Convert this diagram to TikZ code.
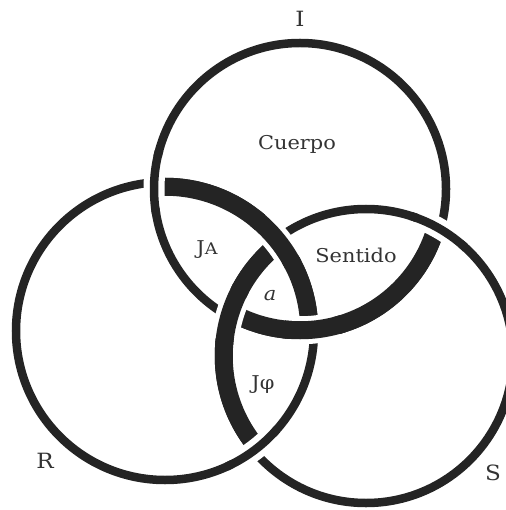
\documentclass[tikz,border=0pt]{standalone}
\usepackage{fontspec}
\setmainfont[FakeStretch=1.1]{DejaVu Serif}
\definecolor{ink}{HTML}{242424}
\definecolor{txt}{HTML}{333333}
\def\rI{146}
\def\rR{149}
\def\rS{147}
\begin{document}
\begin{tikzpicture}[x=1pt,y=-1pt,
  thinring/.style={draw=ink, line width=8.5pt},
  thickring/.style={draw=ink, line width=18pt},
  halothin/.style={draw=white, line width=21pt},
  halothick/.style={draw=white, line width=28pt},
  lbl/.style={text=txt, font=\fontsize{19}{19}\selectfont, anchor=base, inner sep=0pt},
  biglbl/.style={text=txt, font=\fontsize{21}{21}\selectfont, anchor=base, inner sep=0pt}]
\useasboundingbox (0,0) rectangle (505,510);
\coordinate (cI) at (300,189);
\coordinate (cR) at (165,331);
\coordinate (cS) at (366,356);
% thin rings
\draw[thinring] (cI) circle[radius=\rI];
\draw[thinring] (cR) circle[radius=\rR];
\draw[thinring] (cS) circle[radius=\rS];
% thick arcs: R inside I, I inside S, S inside R
\begin{scope}
  \clip (cI) circle[radius=\rI];
  \draw[thickring] (cR) circle[radius={\rR-4.75}];
\end{scope}
\begin{scope}
  \clip (cS) circle[radius=\rS];
  \draw[thickring] (cI) circle[radius={\rI-4.75}];
\end{scope}
\begin{scope}
  \clip (cR) circle[radius=\rR];
  \draw[thickring] (cS) circle[radius={\rS-4.75}];
\end{scope}
% crossings
\coordinate (xIR1) at (154,182);
\coordinate (xIR2) at (314,334);
\coordinate (xSI1) at (440,229);
\coordinate (xSI2) at (225,314);
\coordinate (xRS1) at (280,237);
\coordinate (xRS2) at (254,451);
% I over R
\begin{scope}
  \clip (xIR1) circle[radius=26];
  \draw[halothin] (cI) circle[radius=\rI];
\end{scope}
\begin{scope}
  \clip (xIR1) circle[radius=32];
  \draw[thinring] (cI) circle[radius=\rI];
\end{scope}
\begin{scope}
  \clip (xIR2) circle[radius=26];
  \draw[halothick] (cI) circle[radius={\rI-4.75}];
\end{scope}
\begin{scope}
  \clip (xIR2) circle[radius=32];
  \draw[thickring] (cI) circle[radius={\rI-4.75}];
\end{scope}
% S over I
\begin{scope}
  \clip (xSI1) circle[radius=26];
  \draw[halothin] (cS) circle[radius=\rS];
\end{scope}
\begin{scope}
  \clip (xSI1) circle[radius=32];
  \draw[thinring] (cS) circle[radius=\rS];
\end{scope}
\begin{scope}
  \clip (xSI2) circle[radius=26];
  \draw[halothick] (cS) circle[radius={\rS-4.75}];
\end{scope}
\begin{scope}
  \clip (xSI2) circle[radius=32];
  \draw[thickring] (cS) circle[radius={\rS-4.75}];
\end{scope}
% R over S
\begin{scope}
  \clip (xRS1) circle[radius=26];
  \draw[halothick] (cR) circle[radius={\rR-4.75}];
\end{scope}
\begin{scope}
  \clip (xRS1) circle[radius=32];
  \draw[thickring] (cR) circle[radius={\rR-4.75}];
\end{scope}
\begin{scope}
  \clip (xRS2) circle[radius=26];
  \draw[halothin] (cR) circle[radius=\rR];
\end{scope}
\begin{scope}
  \clip (xRS2) circle[radius=32];
  \draw[thinring] (cR) circle[radius=\rR];
\end{scope}
% labels
\node[biglbl] (labI) at (300,27) {I};
\node[biglbl] (labR) at (45,468) {R};
\node[biglbl] (labS) at (493,480) {S};
\node[lbl] (cuerpo) at (297,150) {Cuerpo};
\node[lbl] (sentido) at (356,262) {Sentido};
\node[lbl] (ja) at (207,254) {J{\fontsize{16}{16}\selectfont A}};
\node[lbl] (obja) at (270,300) {\textit{a}};
\node[lbl] (jphi) at (263,389) {Jφ};
\end{tikzpicture}
\end{document}
